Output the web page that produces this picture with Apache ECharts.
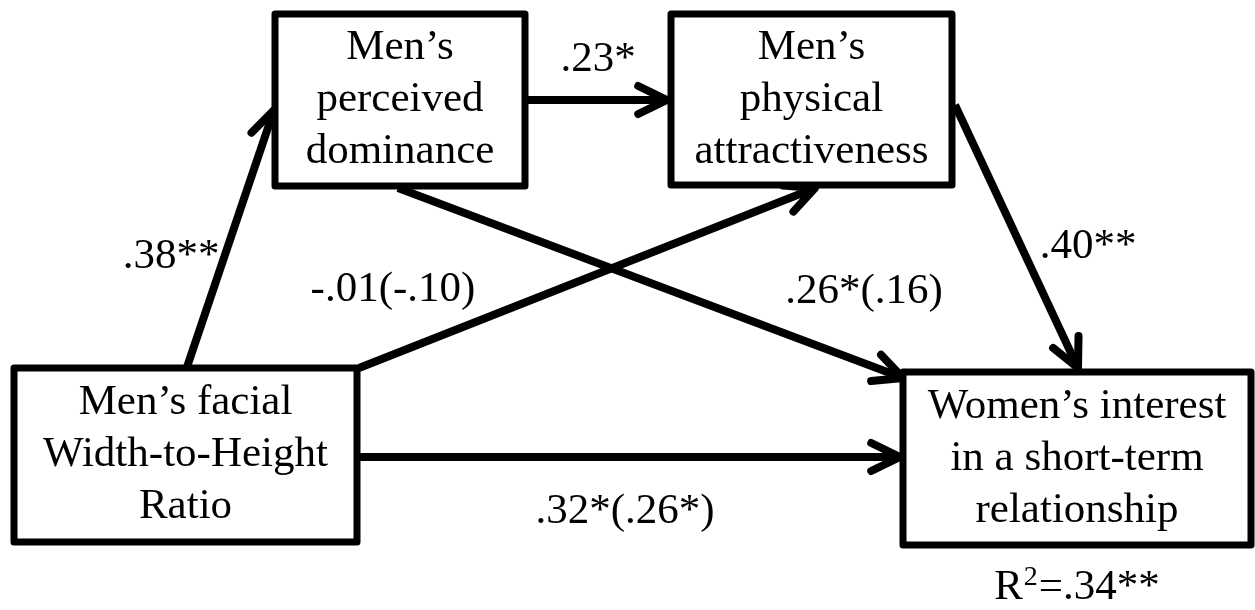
<!DOCTYPE html>
<html><head><meta charset="utf-8">
<script src="https://cdn.jsdelivr.net/npm/echarts@6/dist/echarts.min.js"></script>
<style>html,body{margin:0;padding:0;background:#fff}#c{width:1255px;height:610px}</style>
</head><body><div id="c"></div>
<script>
// Boxes (variables) in the path model, extents in diagram units
const nodeLabels = ['Men’s\nperceived\ndominance', 'Men’s\nphysical\nattractiveness', 'Men’s facial\nWidth-to-Height\nRatio', 'Women’s interest\nin a short-term\nrelationship'];
const nodeLeft = [275, 671, 14, 903];
const nodeRight = [525, 952, 357, 1251];
const nodeTop = [14, 14, 368, 372];
const nodeBottom = [186, 185, 542, 545];

// Paths (arrows): start and tip
const pathFromX = [187, 528, 398, 359, 955, 360];
const pathFromY = [367, 100, 188, 368, 105, 457];
const pathToX = [274, 667, 903, 815, 1078, 900];
const pathToY = [110, 100, 378, 188, 368, 457];

// Coefficient labels and anchor positions
const coefLabels = ['.38**', '-.01(-.10)', '.23*', '.26*(.16)', '.40**', '.32*(.26*)', 'R²=.34**'];
const coefX = [171, 393, 598, 864, 1088, 625, 1077];
const coefY = [257, 290, 60, 292, 247, 512, 588];

const FONT_FAMILY = '"Liberation Serif", "Times New Roman", serif';
const FONT_SIZE = 43;
const LINE_H = 52;
const STROKE = 7;
const ARROW_STROKE = 8;

const chart = echarts.init(document.getElementById('c'), null, {renderer: 'canvas'});

const edgeData = pathFromX.map((x, i) => [x, pathFromY[i], pathToX[i], pathToY[i]]);
const nodeData = nodeLeft.map((x, i) => [x, nodeTop[i], nodeRight[i], nodeBottom[i]]);
const labelData = coefX.map((x, i) => [x, coefY[i]]);

function renderEdge(params, api) {
  const p1 = api.coord([api.value(0), api.value(1)]);
  const p2 = api.coord([api.value(2), api.value(3)]);
  const dx = p2[0] - p1[0], dy = p2[1] - p1[1];
  const len = Math.hypot(dx, dy);
  const ux = dx / len, uy = dy / len;
  const L = 32, th = 26 * Math.PI / 180;
  const c = Math.cos(th), s = Math.sin(th);
  const bx = -ux, by = -uy;
  const a1 = [p2[0] + L * (bx * c - by * s), p2[1] + L * (bx * s + by * c)];
  const a2 = [p2[0] + L * (bx * c + by * s), p2[1] + L * (-bx * s + by * c)];
  const e = [p2[0] - 4 * ux, p2[1] - 4 * uy];
  return {
    type: 'group',
    children: [
      {type: 'line', shape: {x1: p1[0], y1: p1[1], x2: e[0], y2: e[1]},
        style: {stroke: '#000', lineWidth: ARROW_STROKE, lineCap: 'butt'}},
      {type: 'polyline', shape: {points: [a1, p2, a2]},
        style: {stroke: '#000', lineWidth: ARROW_STROKE, fill: null, lineJoin: 'round', lineCap: 'round'}}
    ]
  };
}

function renderNode(params, api) {
  const tl = api.coord([api.value(0), api.value(1)]);
  const br = api.coord([api.value(2), api.value(3)]);
  return {
    type: 'group',
    children: [
      {type: 'rect', shape: {x: tl[0], y: tl[1], width: br[0] - tl[0], height: br[1] - tl[1]},
        style: {fill: '#fff', stroke: '#000', lineWidth: STROKE, lineJoin: 'round'}},
      {type: 'text', x: (tl[0] + br[0]) / 2, y: (tl[1] + br[1]) / 2,
        style: {text: nodeLabels[params.dataIndex], fill: '#000', fontSize: FONT_SIZE, fontFamily: FONT_FAMILY,
          lineHeight: LINE_H, align: 'center', verticalAlign: 'middle'}}
    ]
  };
}

function renderLabel(params, api) {
  const p = api.coord([api.value(0), api.value(1)]);
  const raw = coefLabels[params.dataIndex];
  const parts = raw.split('²');
  const text = parts.length > 1 ? '{n|' + parts[0] + '}{sup|2}{n|' + parts[1] + '}' : '{n|' + raw + '}';
  return {
    type: 'text', x: p[0], y: p[1],
    style: {text: text, fill: '#000', fontSize: FONT_SIZE, fontFamily: FONT_FAMILY,
      align: 'center', verticalAlign: 'middle',
      rich: {
        n: {fontSize: FONT_SIZE, fontFamily: FONT_FAMILY, lineHeight: 48, fill: '#000'},
        sup: {fontSize: 28, fontFamily: FONT_FAMILY, lineHeight: 48, fill: '#000', verticalAlign: 'top', padding: [0, 1, 0, 1]}
      }}
  };
}

chart.setOption({
  animation: false,
  backgroundColor: '#fff',
  grid: {left: 0, right: 0, top: 0, bottom: 0},
  xAxis: {type: 'value', min: 0, max: 1255, show: false},
  yAxis: {type: 'value', min: 0, max: 610, inverse: true, show: false},
  series: [
    {type: 'custom', name: 'paths', z: 1, silent: true, clip: false, data: edgeData,
      encode: {x: [0, 2], y: [1, 3]}, renderItem: renderEdge},
    {type: 'custom', name: 'variables', z: 2, silent: true, clip: false, data: nodeData,
      encode: {x: [0, 2], y: [1, 3]}, renderItem: renderNode},
    {type: 'custom', name: 'coefficients', z: 3, silent: true, clip: false, data: labelData,
      encode: {x: 0, y: 1}, renderItem: renderLabel}
  ]
});
</script>
</body></html>
